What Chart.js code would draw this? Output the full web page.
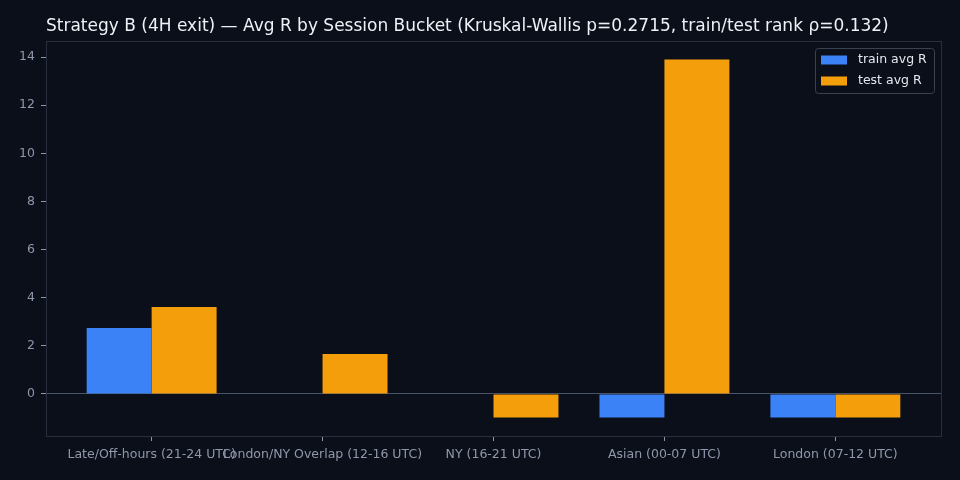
<!DOCTYPE html>
<html>
<head>
<meta charset="utf-8">
<script src="https://cdn.jsdelivr.net/npm/chart.js@4.4.1/dist/chart.umd.min.js"></script>
<style>
  html, body { margin: 0; padding: 0; background: #0b0f19; }
  #wrap { width: 960px; height: 480px; }
</style>
</head>
<body>
<div id="wrap"><canvas id="myChart" width="960" height="480"></canvas></div>
<script>
const chartTitle = 'Strategy B (4H exit) \u2014 Avg R by Session Bucket (Kruskal-Wallis p=0.2715, train/test rank \u03c1=0.132)'
const categories = ['Late/Off-hours (21-24 UTC)', 'London/NY Overlap (12-16 UTC)', 'NY (16-21 UTC)', 'Asian (00-07 UTC)', 'London (07-12 UTC)']
const trainAvgR = [2.74, 0, 0, -0.98, -0.98]
const testAvgR = [3.62, 1.66, -0.98, 13.9, -0.98]
const yTicks = [0, 2, 4, 6, 8, 10, 12, 14]

const bg = '#0b0f19'
const textColor = '#8f98ab'
const frameColor = '#283040'

const toPoints = (values) => values.map((v, i) => ({ x: i, y: v }))

const datasets = [
  { label: 'train avg R', data: toPoints(trainAvgR), backgroundColor: '#3b82f6', borderWidth: 0, inflateAmount: 0 },
  { label: 'test avg R', data: toPoints(testAvgR), backgroundColor: '#f59e0b', borderWidth: 0, inflateAmount: 0 },
]

// frame, title and the legend box sitting inside the plot
const decorations = {
  id: 'decorations',
  beforeDraw(chart) {
    const { ctx } = chart
    ctx.save()
    ctx.fillStyle = bg
    ctx.fillRect(0, 0, chart.width, chart.height)
    ctx.restore()
  },
  afterDraw(chart) {
    const { ctx, chartArea } = chart
    ctx.save()
    ctx.strokeStyle = frameColor
    ctx.lineWidth = 1
    ctx.strokeRect(Math.round(chartArea.left) + 0.5, Math.round(chartArea.top) + 0.5,
      Math.round(chartArea.right - chartArea.left), Math.round(chartArea.bottom - chartArea.top))

    ctx.fillStyle = '#eef1f6'
    ctx.font = '17px "DejaVu Sans"'
    ctx.textBaseline = 'middle'
    ctx.fillText(chartTitle, chartArea.left, 26.5)

    // legend
    const lx = chartArea.right - 126, ly = chartArea.top + 7
    const lw = 119, lh = 45
    ctx.beginPath()
    ctx.roundRect(lx + 0.5, ly + 0.5, lw, lh, 3)
    ctx.fillStyle = 'rgba(11,15,25,0.8)'
    ctx.fill()
    ctx.strokeStyle = '#3a4150'
    ctx.stroke()
    ctx.font = '12.5px "DejaVu Sans"'
    chart.data.datasets.forEach((ds, i) => {
      const rowY = ly + 12 + i * 21
      ctx.fillStyle = ds.backgroundColor
      ctx.fillRect(lx + 6, rowY - 4.5, 26, 9)
      ctx.fillStyle = '#e4e7ee'
      ctx.fillText(ds.label, lx + 43, rowY)
    })
    ctx.restore()
  },
}

const config = {
  type: 'bar',
  data: { datasets },
  options: {
    responsive: false,
    animation: false,
    layout: { padding: { top: 41, right: 19, left: 0, bottom: 0 } },
    datasets: { bar: { categoryPercentage: 0.76, barPercentage: 1.0, borderWidth: 0 } },
    plugins: { legend: { display: false }, title: { display: false }, tooltip: { enabled: false } },
    scales: {
      x: {
        type: 'linear',
        min: -0.618,
        max: 4.618,
        offset: false,
        border: { display: false },
        grid: { offset: false, drawOnChartArea: false, tickLength: 5, tickColor: '#8d95a6' },
        afterBuildTicks: (scale) => { scale.ticks = categories.map((c, i) => ({ value: i })) },
        afterFit: (scale) => { scale.height = 44 },
        ticks: {
          autoSkip: false,
          maxRotation: 0,
          padding: 6,
          color: textColor,
          font: { family: 'DejaVu Sans', size: 12.5 },
          callback: (value) => categories[value],
        },
      },
      y: {
        min: -1.746,
        max: 14.67,
        border: { display: false },
        grid: {
          drawOnChartArea: true,
          tickLength: 5,
          tickColor: '#8d95a6',
          color: (ctx) => (ctx.tick && ctx.tick.value === 0 ? '#4a5468' : 'transparent'),
        },
        afterBuildTicks: (scale) => { scale.ticks = yTicks.map((v) => ({ value: v })) },
        afterFit: (scale) => { scale.width = 46 },
        ticks: {
          padding: 6,
          color: textColor,
          font: { family: 'DejaVu Sans', size: 12.5 },
        },
      },
    },
  },
  plugins: [decorations],
}

const myChart = new Chart(document.getElementById('myChart'), config)
</script>
</body>
</html>
